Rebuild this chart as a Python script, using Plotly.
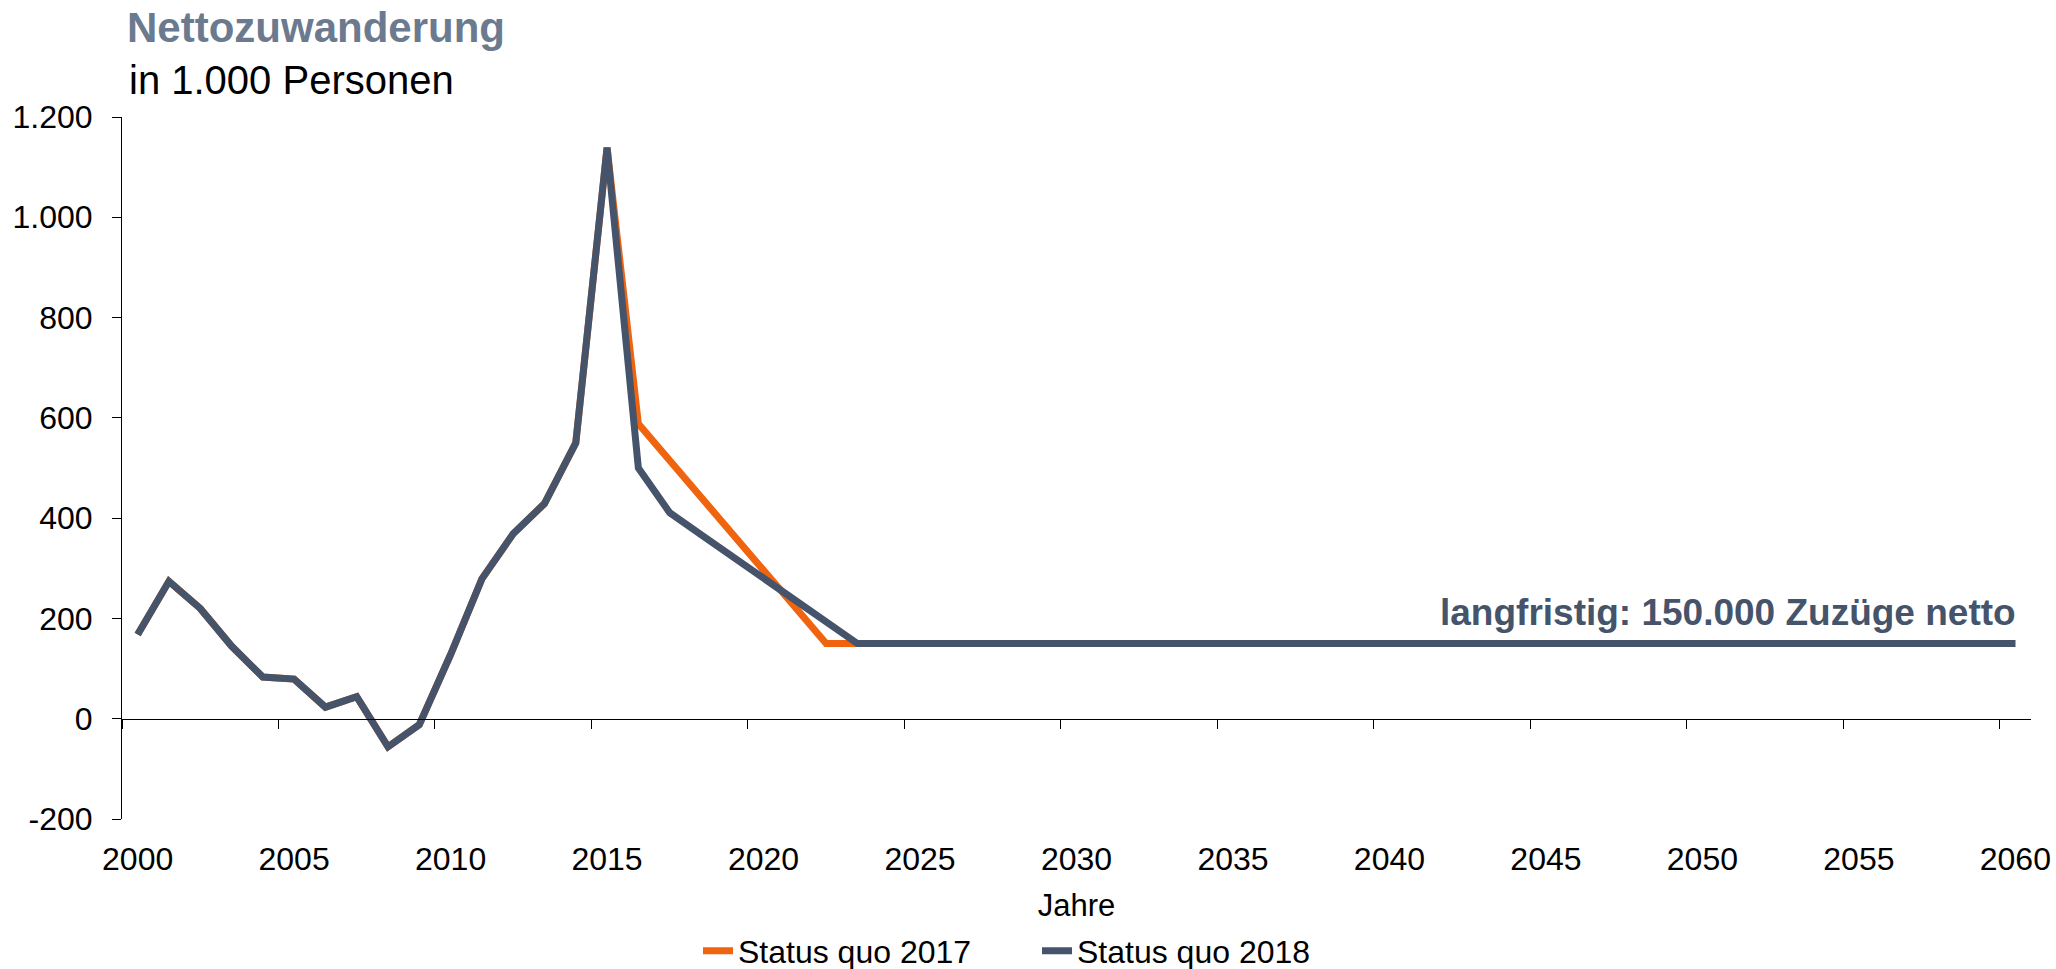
import plotly.graph_objects as go

# Jahre (Kategorien) und Nettozuwanderung in 1.000 Personen
years = list(range(2000, 2061))

history = [168, 274, 220, 145, 83, 79, 23, 44, -56, -12,
           128, 279, 369, 429, 550, 1139]                      # 2000-2015

status_quo_2017 = history + [588, 515, 442, 369, 296, 223, 150] + [150] * 38   # bis 2060
status_quo_2018 = history + [500, 411, 367, 324, 280, 237, 193, 150] + [150] * 37

x_tick_years = list(range(2000, 2061, 5))
x_tick_text = [str(y) for y in x_tick_years]
x_tick_marks = [y - 0.5 for y in x_tick_years]     # Teilstriche zwischen den Kategorien

y_ticks = [-200, 0, 200, 400, 600, 800, 1000, 1200]
y_tick_text = ["-200", "0", "200", "400", "600", "800", "1.000", "1.200"]

long_term_value = 150
long_term_label = "langfristig: 150.000 Zuzüge netto"

series_names = ["Status quo 2017", "Status quo 2018"]
series_colors = ["#f0640f", "#45546b"]

# Seitengeometrie in Pixeln
W, H = 2056, 969
L, R, T, B = 122, 25, 117, 150
PW, PH = W - L - R, H - T - B


def px(xp):
    return (xp - L) / PW


def py(yp):
    return (H - B - yp) / PH


FONT = "Liberation Sans, Arial, sans-serif"

fig = go.Figure()
for name, vals, col in zip(series_names, [status_quo_2017, status_quo_2018], series_colors):
    fig.add_trace(go.Scatter(
        x=years, y=vals, name=name, mode="lines",
        line=dict(color=col, width=7),
        hoverinfo="skip",
    ))

# unsichtbare Spur, damit die Nulllinien-Achse gezeichnet wird
fig.add_trace(go.Scatter(x=[years[0]], y=[0], xaxis="x2", yaxis="y", mode="lines",
                         line=dict(width=0), showlegend=False, hoverinfo="skip"))

x_range = [years[0] - 0.5, years[-1] + 0.5]
y_range = [-200, 1200]
zero_pos = (0 - y_range[0]) / (y_range[1] - y_range[0])

fig.update_layout(
    width=W, height=H,
    margin=dict(l=L, r=R, t=T, b=B, autoexpand=False),
    paper_bgcolor="white", plot_bgcolor="white",
    font=dict(family=FONT, size=31, color="black"),
    showlegend=True,
    legend=dict(
        orientation="h", xref="paper", x=px(698), xanchor="left",
        yref="container", y=(H - 951) / H, yanchor="middle",
        font=dict(family=FONT, size=32, color="black"),
        entrywidth=294, entrywidthmode="pixels", tracegroupgap=0,
    ),
    xaxis=dict(
        range=x_range, showgrid=False, zeroline=False, showline=False, automargin=False,
        tickvals=x_tick_years, ticktext=x_tick_text, ticks="",
        ticklabelstandoff=18,
        tickfont=dict(family=FONT, size=32, color="black"),
        title=dict(text="Jahre", font=dict(family=FONT, size=31, color="black"), standoff=22),
    ),
    xaxis2=dict(
        range=x_range, overlaying="x", anchor="free", position=zero_pos, side="bottom",
        showgrid=False, zeroline=False, showline=True, linecolor="black", linewidth=1,
        tickvals=x_tick_marks, ticks="outside", ticklen=9, tickcolor="black", tickwidth=1,
        showticklabels=False, automargin=False,
    ),
    yaxis=dict(
        range=y_range, showgrid=False, zeroline=False, automargin=False,
        showline=True, linecolor="black", linewidth=1,
        tickvals=y_ticks, ticktext=y_tick_text,
        ticks="outside", ticklen=9, tickcolor="black", tickwidth=1,
        ticklabelstandoff=13,
        tickfont=dict(family=FONT, size=32, color="black"),
    ),
    annotations=[
        dict(text="<b>Nettozuwanderung</b>", xref="paper", yref="paper",
             x=px(125), y=py(28), xanchor="left", yanchor="middle", showarrow=False,
             font=dict(family=FONT, size=42, color="#6b7a8f")),
        dict(text="in 1.000 Personen", xref="paper", yref="paper",
             x=px(127), y=py(80), xanchor="left", yanchor="middle", showarrow=False,
             font=dict(family=FONT, size=40, color="black")),
        dict(text="<b>" + long_term_label + "</b>", xref="x", yref="y",
             x=years[-1], y=long_term_value, xanchor="right", yanchor="middle",
             xshift=3, yshift=31, showarrow=False,
             font=dict(family=FONT, size=37, color="#45546b")),
    ],
)

fig.write_html("out.html")
